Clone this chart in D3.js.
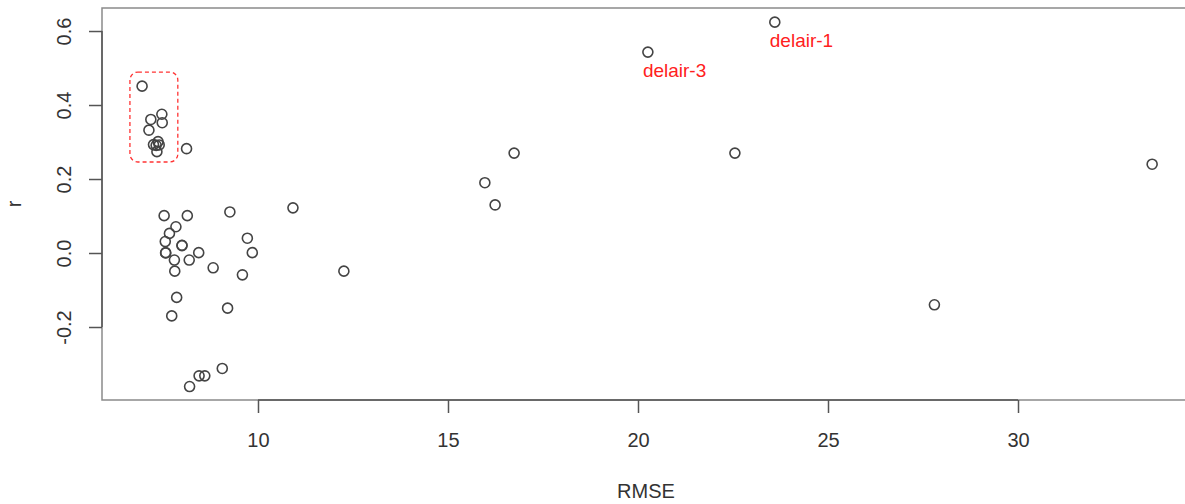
<!DOCTYPE html>
<html>
<head>
<meta charset="utf-8">
<script src="https://cdn.jsdelivr.net/npm/d3@7"></script>
<style>
  body { margin: 0; background: #fff; overflow: hidden; }
  svg { display: block; font-family: "Liberation Sans", Arial, sans-serif; }
</style>
</head>
<body>
<svg id="chart" width="1185" height="504"></svg>
<script>
// data points: RMSE (x) and r (y)
var rmse = [6.95, 7.18, 7.47, 7.48, 7.13, 7.25, 7.37, 7.40, 7.34, 7.32, 8.12,
            7.53, 8.14, 9.26, 10.92, 7.84, 7.67, 7.56, 8.00, 8.00, 7.57, 7.57,
            7.80, 8.19, 8.44, 7.81, 8.82, 9.72, 9.85, 9.59, 12.26, 7.86, 7.73,
            9.20, 9.06, 8.45, 8.60, 8.20,
            15.97, 16.24, 16.74, 20.26, 23.60, 22.55, 27.80, 33.53];
var r = [0.451, 0.361, 0.375, 0.352, 0.332, 0.293, 0.301, 0.292, 0.274, 0.291, 0.282,
         0.101, 0.101, 0.111, 0.122, 0.071, 0.053, 0.031, 0.020, 0.021, 0.001, 0.000,
         -0.019, -0.019, 0.001, -0.049, -0.040, 0.040, 0.001, -0.059, -0.049, -0.120, -0.170,
         -0.149, -0.312, -0.332, -0.332, -0.361,
         0.190, 0.130, 0.270, 0.543, 0.624, 0.270, -0.140, 0.240];

var labels = [{name: "delair-1", i: 42}, {name: "delair-3", i: 41}];

var xTicks = [10, 15, 20, 25, 30];
var yTicks = [-0.2, 0.0, 0.2, 0.4, 0.6];

// highlighted group box (data coords)
var boxX = [6.63, 7.89];
var boxY = [0.246, 0.489];

// layout (right edge of the box runs just past the window)
var plot_left = 102, plot_right = 1190, plot_top = 8, plot_bottom = 400;

var svg = d3.select("#chart");

var x = d3.scaleLinear().domain([5.895, 34.526]).range([plot_left, plot_right]);
var y = d3.scaleLinear().domain([-0.3973, 0.6622]).range([plot_bottom, plot_top]);

// box
svg.append("rect").attr("x", plot_left).attr("y", plot_top)
    .attr("width", plot_right - plot_left).attr("height", plot_bottom - plot_top)
    .style("fill", "none").style("stroke", "#8a8a8a").style("stroke-width", 1.5);

// x axis
var xAxis = d3.axisBottom(x).tickValues(xTicks).tickSize(13).tickPadding(20)
    .tickFormat(d3.format("d"));
var gx = svg.append("g").attr("transform", `translate(0,${plot_bottom})`).call(xAxis);
gx.select(".domain").attr("d", `M${x(xTicks[0])},0H${x(xTicks[xTicks.length - 1])}`);

// y axis (R uses a plain hyphen for minus)
var yAxis = d3.axisLeft(y).tickValues(yTicks).tickSize(13)
    .tickFormat(d => d3.format(".1f")(d).replace("\u2212", "-"));
var gy = svg.append("g").attr("transform", `translate(${plot_left},0)`).call(yAxis);
gy.select(".domain").attr("d", `M0,${y(yTicks[0])}V${y(yTicks[yTicks.length - 1])}`);
gy.selectAll(".tick text")
    .attr("transform", "rotate(-90)")
    .attr("x", 0).attr("y", -31)
    .attr("dy", 0)
    .style("text-anchor", "middle");

svg.selectAll(".domain, .tick line").style("stroke", "#555").style("stroke-width", 1.5);
svg.selectAll(".tick text").style("font-size", "20px").style("fill", "#333")
    .style("font-family", "Liberation Sans, Arial, sans-serif");

// axis titles
svg.append("text").attr("x", 646).attr("y", 498)
    .attr("text-anchor", "middle").style("font-size", "20px").style("fill", "#333").text("RMSE");
svg.append("text").attr("transform", `translate(21,204) rotate(-90)`)
    .attr("text-anchor", "middle").style("font-size", "20px").style("fill", "#333").text("r");

// dashed highlight box
svg.append("rect")
    .attr("x", x(boxX[0])).attr("y", y(boxY[1]))
    .attr("width", x(boxX[1]) - x(boxX[0])).attr("height", y(boxY[0]) - y(boxY[1]))
    .attr("rx", 8)
    .style("fill", "none").style("stroke", "#ff3333").style("stroke-width", 1.3)
    .style("stroke-dasharray", "4,3");

// points
var pts = d3.range(rmse.length).map(i => ({x: rmse[i], y: r[i]}));
svg.append("g").selectAll("circle").data(pts).enter().append("circle")
    .attr("cx", d => x(d.x)).attr("cy", d => y(d.y)).attr("r", 5)
    .style("fill", "none").style("stroke", "#444").style("stroke-width", 1.6);

// labels
svg.append("g").selectAll("text").data(labels).enter().append("text")
    .attr("x", d => x(rmse[d.i]) - 5).attr("y", d => y(r[d.i]) + 25)
    .style("font-size", "19px").style("fill", "#ff2020")
    .style("font-family", "Liberation Sans, Arial, sans-serif")
    .text(d => d.name);
</script>
</body>
</html>
